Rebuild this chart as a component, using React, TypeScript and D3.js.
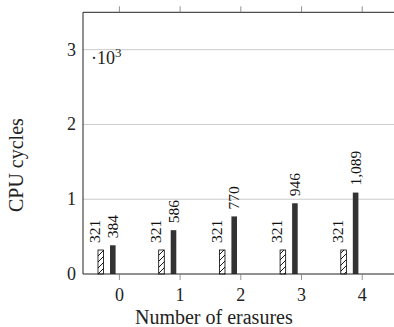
import React from "react";
import * as d3 from "d3";

const categories = [0, 1, 2, 3, 4];
const baselineValues = [321, 321, 321, 321, 321];
const proposedValues = [384, 586, 770, 946, 1089];
const yTicks = [0, 1000, 2000, 3000];
const xLabel = "Number of erasures";
const yLabel = "CPU cycles";

const W = 394;
const H = 327;
const FONT = "'Liberation Serif', 'DejaVu Serif', serif";

export default function App() {
  const x = d3.scaleLinear().domain([-0.6, 4.6]).range([83, 83 + 5.2 * 60.7]);
  const y = d3.scaleLinear().domain([0, 3500]).range([274, 12.3]);
  const unit = x(1) - x(0);
  const barW = 0.092 * unit;
  const offBase = -0.307 * unit;
  const offProp = -0.109 * unit;
  const fmt = d3.format(",");
  const left = x(-0.6);
  const right = x(4.6);
  const top = y(3500);
  const bottom = y(0);

  return (
    <svg
      width={W}
      height={H}
      style={{ position: "absolute", left: 0, top: 0, background: "#fff" }}
      fontFamily={FONT}
    >
      <defs>
        <pattern id="hatch" patternUnits="userSpaceOnUse" width={6} height={6}>
          <rect width={6} height={6} fill="#fff" />
          <path d="M-1,1 L1,-1 M0,6 L6,0 M5,7 L7,5" stroke="#000" strokeWidth={0.9} />
        </pattern>
      </defs>

      {/* grid */}
      {yTicks.filter((t) => t > 0).map((t) => (
        <line key={"g" + t} x1={left} x2={right} y1={y(t)} y2={y(t)} stroke="#bdbdbd" strokeWidth={0.8} />
      ))}

      {/* bars */}
      {categories.map((c, i) => {
        const cx = x(c);
        return (
          <g key={"b" + c}>
            <rect
              x={cx + offBase - barW / 2}
              y={y(baselineValues[i])}
              width={barW}
              height={bottom - y(baselineValues[i])}
              fill="url(#hatch)"
              stroke="#000"
              strokeWidth={0.8}
            />
            <rect
              x={cx + offProp - barW / 2}
              y={y(proposedValues[i])}
              width={barW}
              height={bottom - y(proposedValues[i])}
              fill="#333"
            />
            <text
              transform={`translate(${cx + offBase - 0.5},${y(baselineValues[i]) - 7}) rotate(-90)`}
              fontSize={15.5}
              fill="#111"
            >
              {fmt(baselineValues[i])}
            </text>
            <text
              transform={`translate(${cx + offProp + 5},${y(proposedValues[i]) - 7}) rotate(-90)`}
              fontSize={15.5}
              fill="#111"
            >
              {fmt(proposedValues[i])}
            </text>
          </g>
        );
      })}

      {/* frame */}
      <line x1={left} x2={left} y1={top} y2={bottom} stroke="#222" strokeWidth={1} />
      <line x1={left} x2={right} y1={top} y2={top} stroke="#222" strokeWidth={1} />
      <line x1={left} x2={right} y1={bottom} y2={bottom} stroke="#222" strokeWidth={1} />
      <line x1={right} x2={right} y1={top} y2={bottom} stroke="#222" strokeWidth={1} />

      {/* x ticks */}
      {categories.map((c) => (
        <g key={"t" + c}>
          <line x1={x(c)} x2={x(c)} y1={top} y2={top - 6} stroke="#777" strokeWidth={0.8} />
          <line x1={x(c)} x2={x(c)} y1={bottom} y2={bottom + 6} stroke="#777" strokeWidth={0.8} />
          <text x={x(c)} y={bottom + 27} textAnchor="middle" fontSize={18} fill="#222">
            {c}
          </text>
        </g>
      ))}

      {/* y tick labels */}
      {yTicks.map((t) => (
        <text key={"y" + t} x={left - 7} y={y(t) + 6} textAnchor="end" fontSize={18} fill="#222">
          {t / 1000}
        </text>
      ))}

      {/* scale label */}
      <text x={left + 8} y={64} fontSize={18} fill="#222">
        ·10<tspan dy={-7} fontSize={13}>3</tspan>
      </text>

      {/* axis titles */}
      <text x={(132.7 + 295) / 2} y={324} textAnchor="middle" fontSize={20} fill="#222">
        {xLabel}
      </text>
      <text
        transform={`translate(23,${(top + bottom) / 2 + 22}) rotate(-90)`}
        textAnchor="middle"
        fontSize={20}
        fill="#222"
      >
        {yLabel}
      </text>
    </svg>
  );
}
